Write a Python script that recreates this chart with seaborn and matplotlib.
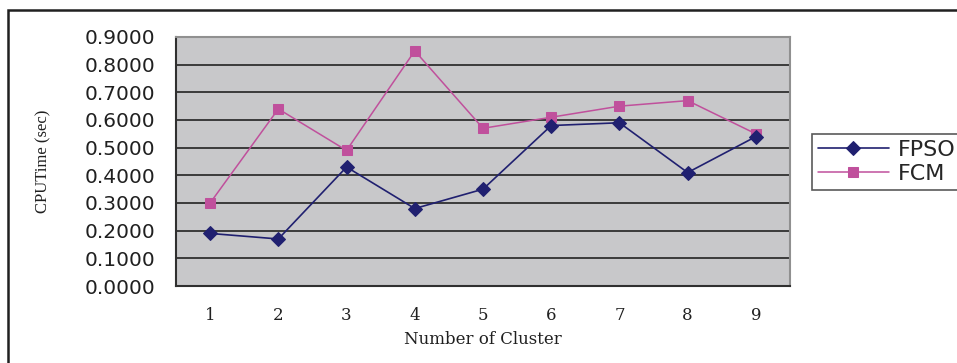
import matplotlib
matplotlib.use("Agg")
import matplotlib.pyplot as plt
from matplotlib.patches import Rectangle
from matplotlib.ticker import FixedLocator, NullFormatter
import seaborn as sns
import pandas as pd

# Data
clusters = [1, 2, 3, 4, 5, 6, 7, 8, 9]
fpso_time = [0.19, 0.17, 0.43, 0.28, 0.35, 0.58, 0.59, 0.41, 0.54]
fcm_time = [0.30, 0.64, 0.49, 0.85, 0.57, 0.61, 0.65, 0.67, 0.55]
y_ticks = [0.0, 0.1, 0.2, 0.3, 0.4, 0.5, 0.6, 0.7, 0.8, 0.9]

FPSO_COLOR = "#202070"
FCM_COLOR = "#C0509C"

sns.set_style("white")
plt.rcParams["font.family"] = ["DejaVu Sans"]

W, H = 957, 363
fig = plt.figure(figsize=(W / 100, H / 100), dpi=100)
ax = fig.add_axes([176 / W, 1 - 286 / H, (790 - 176) / W, (286 - 37) / H])
ax.set_facecolor("#C8C8CA")

df = pd.DataFrame({"cluster": clusters, "FPSO": fpso_time, "FCM": fcm_time})

sns.lineplot(data=df, x="cluster", y="FPSO", ax=ax, color=FPSO_COLOR,
             marker="D", markersize=7, markeredgecolor=FPSO_COLOR,
             linewidth=1.2, label="FPSO", zorder=4)
sns.lineplot(data=df, x="cluster", y="FCM", ax=ax, color=FCM_COLOR,
             marker="s", markersize=7, markeredgecolor=FCM_COLOR,
             linewidth=1.1, label="FCM", zorder=3)

ax.set_xlim(0.5, 9.5)
ax.set_ylim(0, 0.9)

# y axis
ax.set_yticks(y_ticks)
ax.set_yticklabels([f"{v:.4f}" for v in y_ticks], fontsize=14.5,
                   color="#202020")
ax.yaxis.grid(True, color="#303030", linewidth=1.3)
ax.xaxis.grid(False)
ax.set_axisbelow(True)
ax.tick_params(axis="y", which="major", direction="out", length=6,
               width=1.2, color="#303030", pad=9)

# x axis: labels at centres, tick marks between categories
ax.set_xticks(clusters)
ax.set_xticklabels([str(c) for c in clusters], family="DejaVu Serif",
                   fontsize=12, color="#202020")
ax.tick_params(axis="x", which="major", length=0, pad=15)
ax.xaxis.set_minor_locator(FixedLocator([c + 0.5 for c in [0] + clusters]))
ax.xaxis.set_minor_formatter(NullFormatter())
ax.tick_params(axis="x", which="minor", direction="out", length=5,
               width=1.2, color="#505050")

ax.set_xlabel("Number of Cluster", family="DejaVu Serif", fontsize=12,
              color="#202020", labelpad=5)
ax.set_ylabel("CPUTime (sec)", family="Liberation Serif", fontsize=12,
              color="#202020")
ax.yaxis.set_label_coords(-0.203, 0.5)

for side in ["left", "bottom"]:
    ax.spines[side].set_color("#303030")
    ax.spines[side].set_linewidth(1.5)
for side in ["top", "right"]:
    ax.spines[side].set_color("#909090")
    ax.spines[side].set_linewidth(1.5)

ax.get_legend().remove()
handles, labels = ax.get_legend_handles_labels()
leg = fig.legend(handles, labels, loc="upper left",
                 bbox_to_anchor=(812 / W, 1 - 134 / H), fontsize=16,
                 frameon=True, fancybox=False, borderpad=0.25,
                 handlelength=3.2, labelspacing=0.2, handletextpad=0.4,
                 borderaxespad=0)
leg.get_frame().set_edgecolor("#303030")
leg.get_frame().set_linewidth(1.2)

# outer chart frame
fig.patches.append(Rectangle((8 / W, -0.1), 1.2, 1 - 10 / H + 0.1,
                             transform=fig.transFigure, fill=False,
                             edgecolor="#202020", linewidth=1.8))

fig.savefig("out.png", dpi=100)
